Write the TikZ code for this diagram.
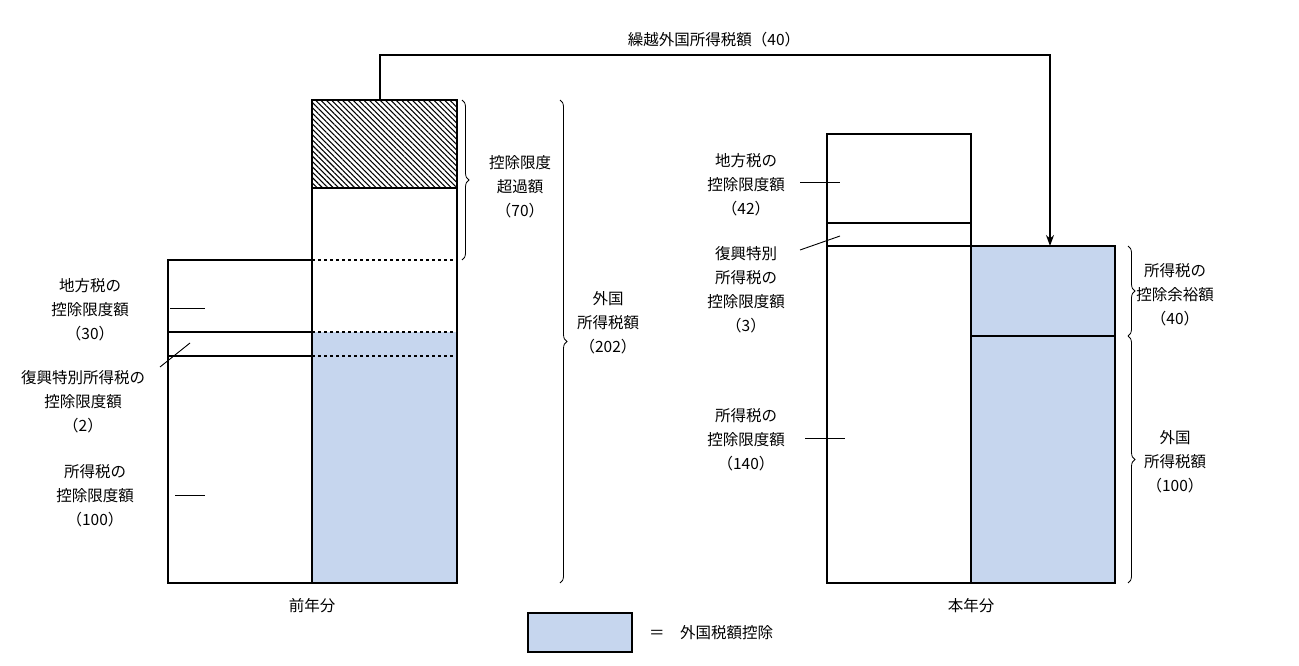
\documentclass[tikz,border=0pt]{standalone}
\usepackage{fontspec}
\setmainfont{Noto Sans CJK JP}
\usetikzlibrary{patterns.meta,decorations.pathreplacing,arrows.meta}
\definecolor{fillblue}{HTML}{C6D6EE}
\begin{document}
\begin{tikzpicture}[x=1pt,y=-1pt,
  lbl/.style={align=center,font=\fontsize{15.5}{24}\selectfont,inner sep=1pt},
  box/.style={draw,line width=1.1pt},
  brace/.style={decorate,decoration={brace,amplitude=7pt},line width=0.8pt},
  dsh/.style={dashed,line width=1.1pt}]
\useasboundingbox (0,0) rectangle (1299,666);
% previous year
\fill[fillblue] (312,332) rectangle (457,583);
\fill[pattern={Lines[angle=-45,distance=3.8pt,line width=1.1pt]}] (312,100) rectangle (457,188);
\draw[box] (312,100) rectangle (457,583);
\draw[line width=1.1pt] (312,188) -- (457,188);
\draw[box] (168,260) rectangle (312,583);
\draw[line width=1.1pt] (168,332) -- (312,332) (168,356) -- (312,356);
\draw[dsh] (312,260) -- (457,260) (312,332) -- (457,332) (312,356) -- (457,356);
\draw[brace] (462,100) -- (462,260);
\draw[brace] (560,100) -- (560,583);
\node[lbl] (exc) at (520,187) {控除限度\\超過額\\（70）};
\node[lbl] (fp) at (608,323) {外国\\所得税額\\（202）};
\node[lbl] (a1) at (90,310) {地方税の\\控除限度額\\（30）};
\node[lbl] (a2) at (83,402) {復興特別所得税の\\控除限度額\\（2）};
\node[lbl] (a3) at (95,496) {所得税の\\控除限度額\\（100）};
\draw[line width=0.9pt] (170,308) -- (205,308);
\draw[line width=0.9pt] (160,367) -- (190,343);
\draw[line width=0.9pt] (175,495) -- (205,495);
\node[lbl] (py) at (312,606) {前年分};
% current year
\fill[fillblue] (971,246) rectangle (1115,583);
\draw[box] (827,134) rectangle (971,583);
\draw[line width=1.1pt] (827,223) -- (971,223) (827,246) -- (971,246);
\draw[line width=1.5pt] (971,246) rectangle (1115,583);
\draw[line width=1.1pt] (971,336) -- (1115,336);
\draw[brace] (1128,246) -- (1128,336);
\draw[brace] (1128,336) -- (1128,583);
\node[lbl] (b1) at (746,185) {地方税の\\控除限度額\\（42）};
\node[lbl] (b2) at (746,290) {復興特別\\所得税の\\控除限度額\\（3）};
\node[lbl] (b3) at (746,440) {所得税の\\控除限度額\\（140）};
\draw[line width=0.9pt] (800,182) -- (840,182);
\draw[line width=0.9pt] (800,250) -- (840,236);
\draw[line width=0.9pt] (805,438) -- (845,438);
\node[lbl] (c1) at (1175,295) {所得税の\\控除余裕額\\（40）};
\node[lbl] (c2) at (1175,462) {外国\\所得税額\\（100）};
\node[lbl] (cy) at (971,606) {本年分};
% carry-over arrow
\coordinate (s) at (380,100);
\coordinate (e) at (1050,246);
\draw[line width=1.5pt,-{Stealth[length=11pt,width=8pt]}] (s) -- (380,55) -- (1050,55) -- (e);
\node[lbl] (co) at (714,40) {繰越外国所得税額（40）};
% legend
\draw[fill=fillblue,line width=1.1pt] (528,613) rectangle (632,652);
\node[lbl,anchor=west] (lg) at (648,633) {＝\quad 外国税額控除};
\end{tikzpicture}
\end{document}
